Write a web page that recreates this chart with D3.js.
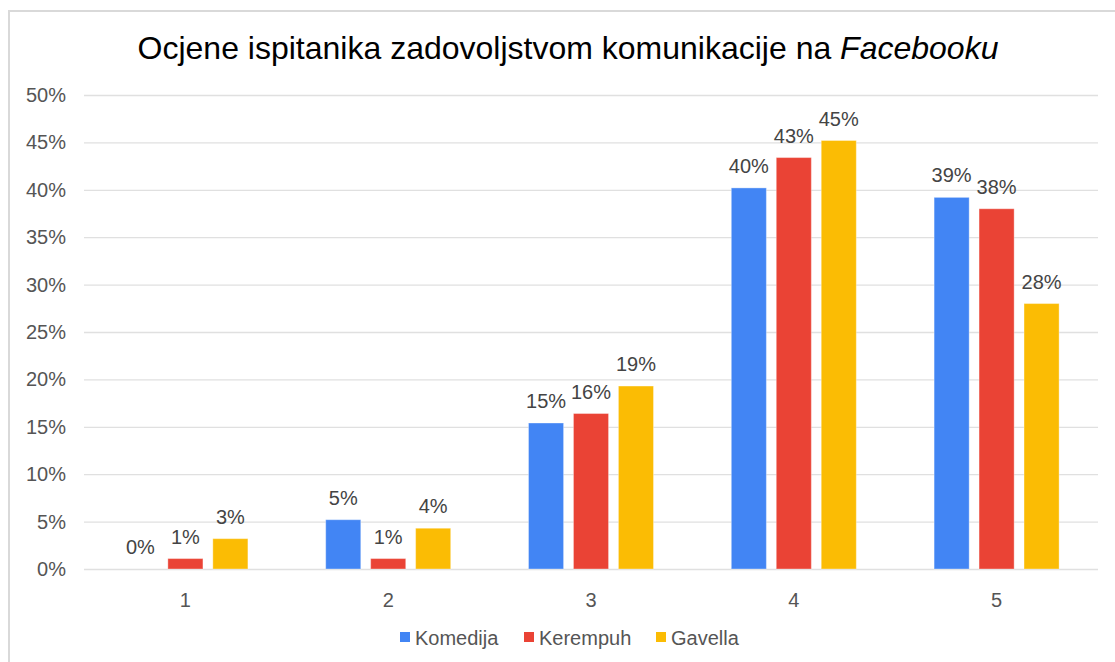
<!DOCTYPE html>
<html>
<head>
<meta charset="utf-8">
<script src="https://cdn.jsdelivr.net/npm/d3@7"></script>
<style>
  body { margin: 0; background: #fff; }
  text { font-family: "Liberation Sans", Arial, sans-serif; }
</style>
</head>
<body>
<div id="chart"></div>
<script>
// data
var categories = ["1", "2", "3", "4", "5"];
var seriesNames = ["Komedija", "Kerempuh", "Gavella"];
var komedija = [0, 5.2, 15.4, 40.2, 39.2];
var kerempuh = [1.1, 1.1, 16.4, 43.4, 38.0];
var gavella = [3.2, 4.3, 19.3, 45.2, 28.0];
var yTicks = [0, 5, 10, 15, 20, 25, 30, 35, 40, 45, 50];
var colors = ["#4285F4", "#EA4335", "#FBBC04"];

var svgWidth = 1115;
var svgHeight = 662;

var margin = { top: 95, right: 17, bottom: 93, left: 84 };
var width = svgWidth - margin.left - margin.right;
var height = svgHeight - margin.top - margin.bottom;

var svg = d3.select("#chart")
  .append("svg")
  .attr("width", svgWidth)
  .attr("height", svgHeight);

// frame (only top and left edges are visible in the picture)
svg.append("path")
  .attr("d", "M9,662 V11 H1115")
  .attr("fill", "none")
  .attr("stroke", "#d9d9d9")
  .attr("stroke-width", 2);

// title
var title = svg.append("text")
  .attr("x", 568)
  .attr("y", 59)
  .attr("text-anchor", "middle")
  .attr("font-size", 32)
  .attr("fill", "#000");
title.append("tspan").text("Ocjene ispitanika zadovoljstvom komunikacije na ");
title.append("tspan").attr("font-style", "italic").text("Facebooku");

var chartGroup = svg.append("g")
  .attr("transform", `translate(${margin.left}, ${margin.top})`);

var yScale = d3.scaleLinear()
  .domain([0, 50])
  .range([height, 0]);

var x0 = d3.scaleBand()
  .domain(categories)
  .range([0, width])
  .padding(0);

var groupWidth = 125;
var x1 = d3.scaleBand()
  .domain(seriesNames)
  .range([(x0.bandwidth() - groupWidth) / 2, (x0.bandwidth() + groupWidth) / 2])
  .paddingInner(0.22)
  .paddingOuter(0);

// gridlines + y tick labels
var leftAxis = d3.axisLeft(yScale)
  .tickValues(yTicks)
  .tickSize(-width)
  .tickPadding(18)
  .tickFormat(d => d + "%");

var yAxis = chartGroup.append("g").call(leftAxis);
yAxis.select(".domain").remove();
yAxis.selectAll("line").attr("stroke", "#e0e0e0").attr("stroke-width", 1.3);
yAxis.selectAll("text")
  .attr("font-size", 20)
  .attr("fill", "#555")
  .style("font-family", "'Liberation Sans', Arial, sans-serif");

// x labels
var bottomAxis = d3.axisBottom(x0).tickSize(0).tickPadding(24);
var xAxis = chartGroup.append("g")
  .attr("transform", `translate(0, ${height})`)
  .call(bottomAxis);
xAxis.select(".domain").remove();
xAxis.selectAll("text")
  .attr("font-size", 20)
  .attr("fill", "#555")
  .style("font-family", "'Liberation Sans', Arial, sans-serif");

var seriesData = [komedija, kerempuh, gavella];
var rows = [];
categories.forEach(function(c, i) {
  seriesNames.forEach(function(s, j) {
    rows.push({ cat: c, series: s, value: seriesData[j][i], color: colors[j] });
  });
});

chartGroup.selectAll("rect.bar")
  .data(rows)
  .enter()
  .append("rect")
  .attr("class", "bar")
  .attr("x", d => x0(d.cat) + x1(d.series))
  .attr("y", d => yScale(d.value))
  .attr("width", x1.bandwidth())
  .attr("height", d => height - yScale(d.value))
  .attr("fill", d => d.color)
  .attr("stroke", "#fff")
  .attr("stroke-opacity", 0.35)
  .attr("stroke-width", 1);

chartGroup.selectAll("text.val")
  .data(rows)
  .enter()
  .append("text")
  .attr("class", "val")
  .attr("x", d => x0(d.cat) + x1(d.series) + x1.bandwidth() / 2)
  .attr("y", d => yScale(d.value) - 15)
  .attr("text-anchor", "middle")
  .attr("font-size", 20)
  .attr("fill", "#444")
  .text(d => Math.round(d.value) + "%");

// legend
var legendItems = [
  { name: "Komedija", x: 400 },
  { name: "Kerempuh", x: 524 },
  { name: "Gavella", x: 656 }
];
var legend = svg.append("g");
legendItems.forEach(function(item, i) {
  legend.append("rect")
    .attr("x", item.x)
    .attr("y", 632)
    .attr("width", 10)
    .attr("height", 10)
    .attr("fill", colors[i]);
  legend.append("text")
    .attr("x", item.x + 15)
    .attr("y", 645)
    .attr("font-size", 20)
    .attr("fill", "#555")
    .text(item.name);
});
</script>
</body>
</html>
